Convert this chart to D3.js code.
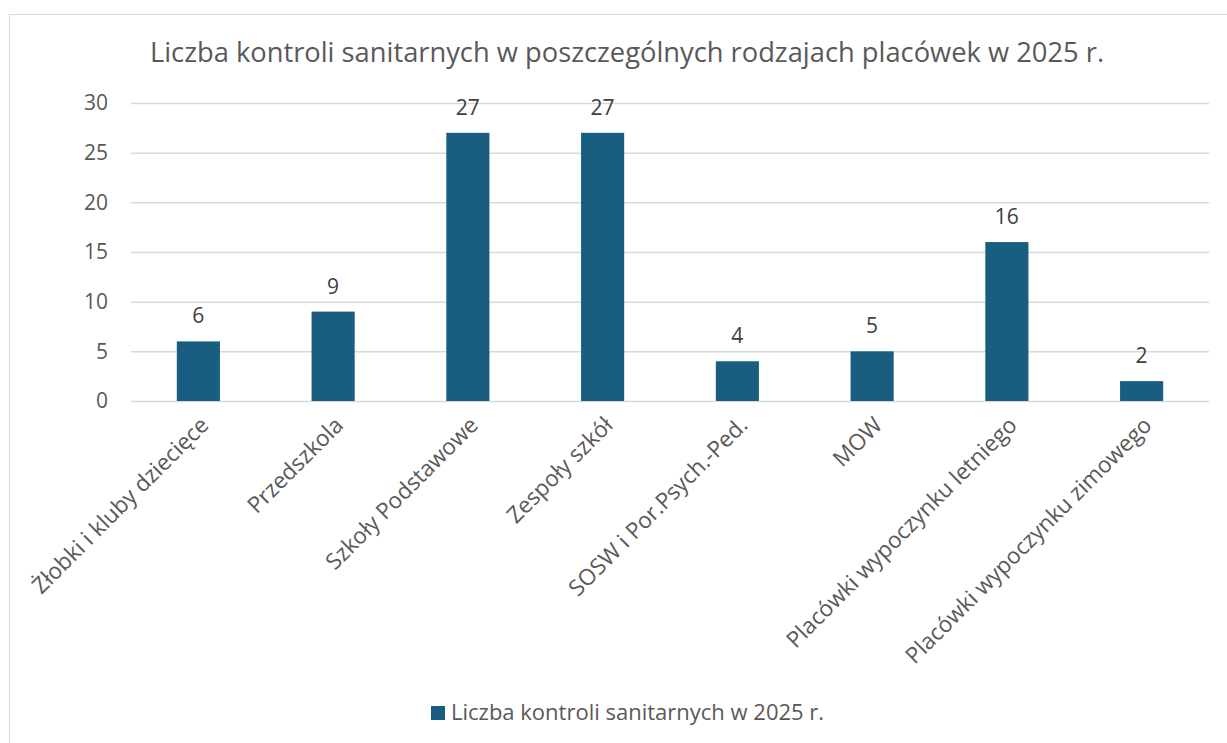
<!DOCTYPE html>
<html>
<head>
  <meta charset="utf-8">
  <title>Liczba kontroli sanitarnych</title>
  <script src="https://d3js.org/d3.v7.min.js"></script>
  <style>
    body { margin: 0; background: #fff; }
    svg text { font-family: "Open Sans", "Noto Sans", sans-serif; }
  </style>
</head>
<body>
  <div id="chart"></div>

  <script>
    // data
    const categories = [
      "Żłobki i kluby dziecięce",
      "Przedszkola",
      "Szkoły Podstawowe",
      "Zespoły szkół",
      "SOSW i Por.Psych.-Ped.",
      "MOW",
      "Placówki wypoczynku letniego",
      "Placówki wypoczynku zimowego"
    ];
    const values = [6, 9, 27, 27, 4, 5, 16, 2];
    const yTicks = [0, 5, 10, 15, 20, 25, 30];
    const chartTitle = "Liczba kontroli sanitarnych w poszczególnych rodzajach placówek w 2025 r.";
    const seriesName = "Liczba kontroli sanitarnych w 2025 r.";

    const width = 1227, height = 743;
    const barColor = "#195e80";
    const textColor = "#595959";

    const svg = d3.select("#chart")
      .append("svg")
      .attr("width", width)
      .attr("height", height);

    // chart frame
    svg.append("rect")
      .attr("x", 9.5)
      .attr("y", 14.5)
      .attr("width", width)
      .attr("height", height)
      .attr("fill", "#fff")
      .attr("stroke", "#d9d9d9");

    const xScale = d3.scaleBand()
      .domain(categories)
      .range([131, 1209])
      .paddingInner(0.68)
      .paddingOuter(0.34);

    const yScale = d3.scaleLinear()
      .domain([0, 30])
      .range([401, 103]);

    // gridlines + y labels
    const yAxis = svg.append("g")
      .attr("transform", "translate(131,0)")
      .call(d3.axisLeft(yScale).tickValues(yTicks).tickSize(-(1209 - 131)).tickPadding(23));
    yAxis.select(".domain").remove();
    yAxis.selectAll(".tick line").attr("stroke", "#d9d9d9").attr("stroke-width", 1.5);
    yAxis.selectAll(".tick text")
      .attr("fill", textColor)
      .style("font-size", "21px");

    // bars
    svg.selectAll(".bar")
      .data(values)
      .enter()
      .append("rect")
      .attr("class", "bar")
      .attr("x", (d, i) => xScale(categories[i]))
      .attr("y", d => yScale(d))
      .attr("width", xScale.bandwidth())
      .attr("height", d => yScale(0) - yScale(d))
      .attr("fill", barColor);

    // data labels
    svg.selectAll(".label")
      .data(values)
      .enter()
      .append("text")
      .attr("class", "label")
      .attr("x", (d, i) => xScale(categories[i]) + xScale.bandwidth() / 2)
      .attr("y", d => yScale(d) - 18)
      .attr("text-anchor", "middle")
      .attr("fill", "#404040")
      .style("font-size", "21px")
      .text(d => d);

    // x axis labels, rotated
    const xAxis = svg.append("g")
      .attr("transform", "translate(0,401)")
      .call(d3.axisBottom(xScale).tickSize(0).tickPadding(0));
    xAxis.select(".domain").remove();
    xAxis.selectAll(".tick text")
      .attr("fill", textColor)
      .style("font-size", "22.5px")
      .attr("text-anchor", "end")
      .attr("dy", "0.35em")
      .attr("transform", "translate(6,20) rotate(-45)");

    // title
    svg.append("text")
      .attr("x", 627)
      .attr("y", 62)
      .attr("text-anchor", "middle")
      .attr("fill", textColor)
      .style("font-size", "27.3px")
      .text(chartTitle);

    // legend
    const legend = svg.append("g");
    legend.append("rect")
      .attr("x", 431)
      .attr("y", 706)
      .attr("width", 14)
      .attr("height", 14)
      .attr("fill", barColor);
    legend.append("text")
      .attr("x", 451)
      .attr("y", 720)
      .attr("fill", textColor)
      .style("font-size", "22px")
      .text(seriesName);
  </script>
</body>
</html>
